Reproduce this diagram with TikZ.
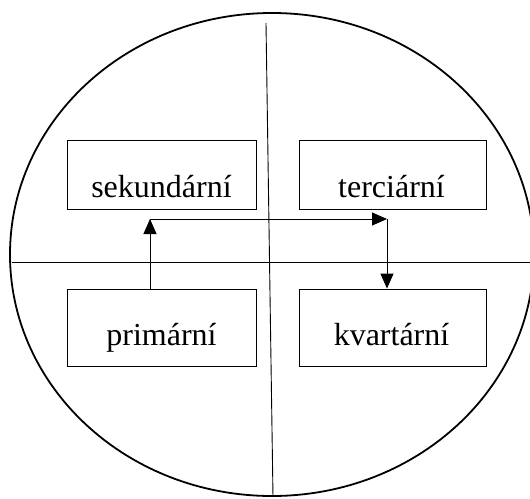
\documentclass[tikz,border=0pt]{standalone}
\usepackage{fontspec}
\setmainfont{Liberation Serif}
\usetikzlibrary{arrows.meta}
\begin{document}
\begin{tikzpicture}[x=1pt,y=-1pt,
  sector/.style={draw,line width=0.9pt,inner sep=0pt,minimum width=189pt},
  upper/.style={sector,minimum height=69pt},
  lower/.style={sector,minimum height=77pt},
  lbl/.style={anchor=base,inner sep=0pt,font=\fontsize{32}{38}\selectfont},
  divider/.style={line width=0.9pt},
  arr/.style={line width=0.9pt,-{Triangle[length=15pt,width=13pt]}}]
\useasboundingbox (0,0) rectangle (530,498);
\clip (0,0) rectangle (530,498);
% outer ellipse
\draw[line width=1.8pt] (272,254.5) ellipse [x radius=262pt, y radius=241.5pt];
% quadrant dividers
\coordinate (hl) at (12,262.5);
\coordinate (hr) at (531,262.5);
\coordinate (vt) at (266,23);
\coordinate (vb) at (273,497);
\draw[divider] (hl) -- (hr);
\draw[divider] (vt) -- (vb);
% sector boxes
\node[upper] (sek) at (161.5,174.5) {};
\node[upper,minimum width=187pt] (ter) at (392.5,174.5) {};
\node[lower] (pri) at (161.5,327.5) {};
\node[lower,minimum width=187pt] (kva) at (392.5,327.5) {};
% labels
\node[lbl] (tsek) at (161.5,197.7) {sekundární};
\node[lbl] (tter) at (391.5,197.7) {terciární};
\node[lbl] (tpri) at (161.5,345.7) {primární};
\node[lbl] (tkva) at (391.5,345.7) {kvartární};
% flow between sectors
\coordinate (c1) at (150,219);
\coordinate (c2) at (387,219);
\draw[arr] (pri.north -| c1) -- (c1);
\draw[arr] (c1) -- (c2);
\draw[arr] (c2) -- (kva.north -| c2);
\end{tikzpicture}
\end{document}
